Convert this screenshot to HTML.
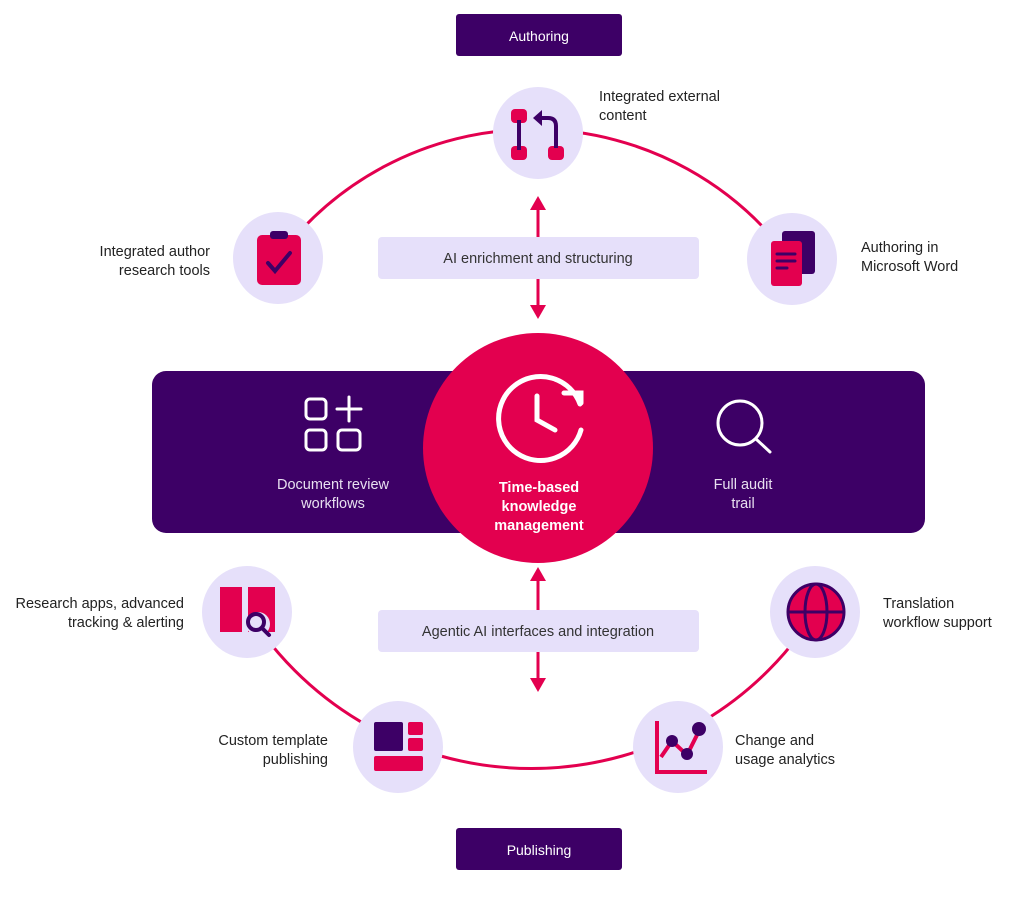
<!DOCTYPE html>
<html><head><meta charset="utf-8"><style>
html,body{margin:0;padding:0;background:#fff;}
svg{display:block;font-family:"Liberation Sans",sans-serif;}
</style></head><body>
<svg width="1024" height="897" viewBox="0 0 1024 897" xmlns="http://www.w3.org/2000/svg">
<path d="M278,258 A318,318 0 0 1 792,262" fill="none" stroke="#e3004f" stroke-width="3"/>
<path d="M248,612 A335,335 0 0 0 815,612" fill="none" stroke="#e3004f" stroke-width="3"/>
<rect x="456" y="14" width="166" height="42" rx="3" fill="#3d0066"/>
<text x="539" y="41" font-size="14" fill="#fff" text-anchor="middle">Authoring</text>
<rect x="456" y="828" width="166" height="42" rx="3" fill="#3d0066"/>
<text x="539" y="855" font-size="14" fill="#fff" text-anchor="middle">Publishing</text>
<g stroke="#e3004f" stroke-width="3"><line x1="538" y1="208" x2="538" y2="306"/><line x1="538" y1="580" x2="538" y2="680"/></g>
<g fill="#e3004f">
<polygon points="538,196 530,210 546,210"/><polygon points="538,319 530,305 546,305"/>
<polygon points="538,567 530,581 546,581"/><polygon points="538,692 530,678 546,678"/>
</g>
<rect x="378" y="237" width="321" height="42" rx="4" fill="#e6e0fa"/>
<text x="538" y="263" font-size="14.5" fill="#333" text-anchor="middle">AI enrichment and structuring</text>
<rect x="378" y="610" width="321" height="42" rx="4" fill="#e6e0fa"/>
<text x="538" y="636" font-size="14.5" fill="#333" text-anchor="middle">Agentic AI interfaces and integration</text>
<rect x="152" y="371" width="773" height="162" rx="14" fill="#3d0066"/>
<circle cx="538" cy="448" r="115" fill="#e3004f"/>
<g fill="none" stroke="#fff" stroke-width="3" stroke-linecap="round">
<rect x="306" y="399" width="20" height="20" rx="4"/><line x1="337" y1="409" x2="361" y2="409"/><line x1="349" y1="397" x2="349" y2="421"/>
<rect x="306" y="430" width="20" height="20" rx="4"/><rect x="338" y="430" width="22" height="20" rx="4"/>
<circle cx="740" cy="423" r="22"/><line x1="756" y1="439" x2="770" y2="452"/>
<path d="M580,404 A42,42 0 1 0 581,430" stroke-width="5"/>
<polyline points="564,393 581,393 581,403" stroke-width="5"/>
<polyline points="537,396 537,420 555,430" stroke-width="5"/>
</g>
<g fill="#fff" font-size="14.5" text-anchor="middle">
<text x="333" y="489" fill="#e8e0f0">Document review</text><text x="333" y="508" fill="#e8e0f0">workflows</text>
<text x="743" y="489" fill="#e8e0f0">Full audit</text><text x="743" y="508" fill="#e8e0f0">trail</text>
<text x="539" y="492" font-weight="bold">Time-based</text><text x="539" y="511" font-weight="bold">knowledge</text><text x="539" y="530" font-weight="bold">management</text>
</g>
<g fill="#e6e0fa">
<ellipse cx="538" cy="133" rx="45" ry="46"/>
<ellipse cx="278" cy="258" rx="45" ry="46"/>
<ellipse cx="792" cy="259" rx="45" ry="46"/>
<ellipse cx="247" cy="612" rx="45" ry="46"/>
<ellipse cx="815" cy="612" rx="45" ry="46"/>
<ellipse cx="398" cy="747" rx="45" ry="46"/>
<ellipse cx="678" cy="747" rx="45" ry="46"/>
</g>
<g fill="#e3004f"><rect x="511" y="109" width="16" height="14" rx="4"/><rect x="511" y="146" width="16" height="14" rx="4"/><rect x="548" y="146" width="16" height="14" rx="4"/></g>
<line x1="519" y1="120" x2="519" y2="150" stroke="#3d0066" stroke-width="4"/>
<path d="M556,148 V126 Q556,118 548,118 H540" fill="none" stroke="#3d0066" stroke-width="4"/>
<polygon points="533,118 542,110 542,126" fill="#3d0066"/>
<rect x="257" y="235" width="44" height="50" rx="5" fill="#e3004f"/>
<rect x="270" y="231" width="18" height="8" rx="3" fill="#3d0066"/>
<polyline points="268,263 275,271 290,253" fill="none" stroke="#3d0066" stroke-width="4" stroke-linecap="round"/>
<rect x="782" y="231" width="33" height="43" rx="3" fill="#3d0066"/>
<rect x="771" y="241" width="31" height="45" rx="3" fill="#e3004f"/>
<g stroke="#3d0066" stroke-width="3" stroke-linecap="round"><line x1="777" y1="254" x2="795" y2="254"/><line x1="777" y1="261" x2="795" y2="261"/><line x1="777" y1="268" x2="787" y2="268"/></g>
<rect x="220" y="587" width="22" height="45" fill="#e3004f"/><rect x="248" y="587" width="27" height="45" fill="#e3004f"/>
<circle cx="258" cy="624" r="12" fill="#e6e0fa"/>
<circle cx="256" cy="622" r="8" fill="none" stroke="#3d0066" stroke-width="4"/>
<line x1="262" y1="628" x2="269" y2="635" stroke="#3d0066" stroke-width="4" stroke-linecap="round"/>
<circle cx="816" cy="612" r="28" fill="#e3004f"/>
<g fill="none" stroke="#3d0066" stroke-width="3"><circle cx="816" cy="612" r="28"/><ellipse cx="816" cy="612" rx="11" ry="28"/><line x1="788" y1="612" x2="844" y2="612"/></g>
<rect x="374" y="722" width="29" height="29" rx="2" fill="#3d0066"/>
<rect x="408" y="722" width="15" height="13" rx="2" fill="#e3004f"/><rect x="408" y="738" width="15" height="13" rx="2" fill="#e3004f"/>
<rect x="374" y="756" width="49" height="15" rx="2" fill="#e3004f"/>
<polyline points="657,721 657,772 707,772" fill="none" stroke="#e3004f" stroke-width="4"/>
<polyline points="661,757 672,741 687,755 699,731" fill="none" stroke="#e3004f" stroke-width="4"/>
<g fill="#3d0066"><circle cx="672" cy="741" r="6"/><circle cx="687" cy="754" r="6"/><circle cx="699" cy="729" r="7"/></g>
<g font-size="14.5" fill="#222">
<text x="599" y="101">Integrated external</text><text x="599" y="120">content</text>
<text x="210" y="256" text-anchor="end">Integrated author</text><text x="210" y="275" text-anchor="end">research tools</text>
<text x="861" y="252">Authoring in</text><text x="861" y="271">Microsoft Word</text>
<text x="184" y="608" text-anchor="end">Research apps, advanced</text><text x="184" y="627" text-anchor="end">tracking &amp; alerting</text>
<text x="883" y="608">Translation</text><text x="883" y="627">workflow support</text>
<text x="328" y="745" text-anchor="end">Custom template</text><text x="328" y="764" text-anchor="end">publishing</text>
<text x="735" y="745">Change and</text><text x="735" y="764">usage analytics</text>
</g>
</svg>
</body></html>
